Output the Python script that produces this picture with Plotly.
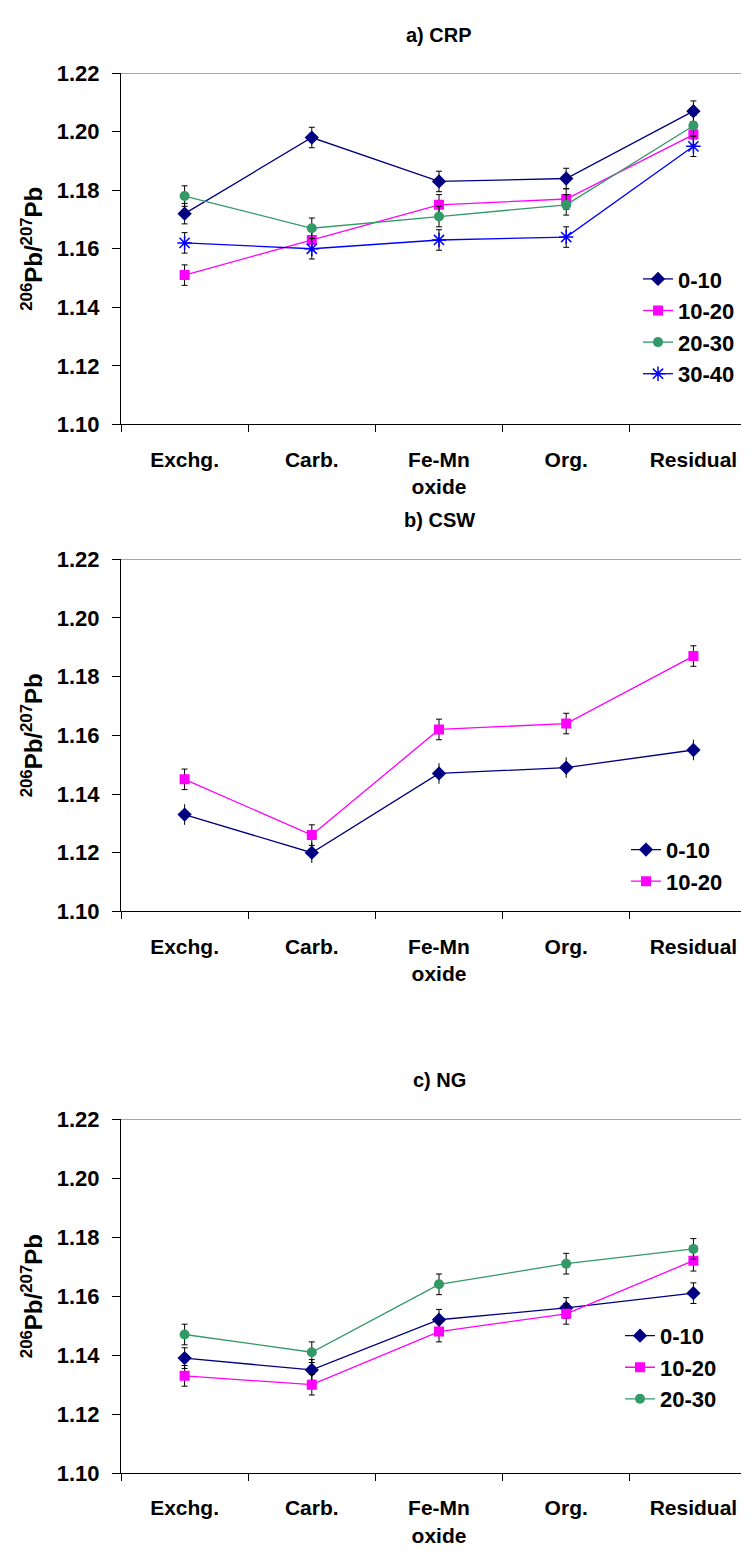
import plotly.graph_objects as go

categories = ["Exchg.", "Carb.", "Fe-Mn<br>oxide", "Org.", "Residual"]
y_ticks = [1.10, 1.12, 1.14, 1.16, 1.18, 1.20, 1.22]
y_ticktext = ["1.10", "1.12", "1.14", "1.16", "1.18", "1.20", "1.22"]

# a) CRP
crp_0_10 = [1.172, 1.198, 1.183, 1.184, 1.207]
crp_10_20 = [1.151, 1.163, 1.175, 1.177, 1.199]
crp_20_30 = [1.178, 1.167, 1.171, 1.175, 1.202]
crp_30_40 = [1.162, 1.160, 1.163, 1.164, 1.195]
# b) CSW
csw_0_10 = [1.133, 1.120, 1.147, 1.149, 1.155]
csw_10_20 = [1.145, 1.126, 1.162, 1.164, 1.187]
# c) NG
ng_0_10 = [1.139, 1.135, 1.152, 1.156, 1.161]
ng_10_20 = [1.133, 1.130, 1.148, 1.154, 1.172]
ng_20_30 = [1.147, 1.141, 1.164, 1.171, 1.176]

err = [0.0035, 0.0035, 0.0035, 0.0035, 0.0035]

W, H = 749, 1554
L = 113
FONT = "Liberation Sans, Arial, sans-serif"

styles = {
    "0-10": dict(color="#000080", symbol="diamond", size=11),
    "10-20": dict(color="#FF00FF", symbol="square", size=10),
    "20-30": dict(color="#339966", symbol="circle", size=10),
    "30-40": dict(color="#0000FF", symbol="asterisk-open", size=12),
}

panels = [
    dict(title="a) CRP", top=54, bottom=411, title_y=15,
         series=[("0-10", crp_0_10), ("10-20", crp_10_20), ("20-30", crp_20_30), ("30-40", crp_30_40)],
         legend=dict(x=630, y=242), nocap=[]),
    dict(title="b) CSW", top=548, bottom=906, title_y=508,
         series=[("0-10", csw_0_10), ("10-20", csw_10_20)],
         legend=dict(x=618, y=822), nocap=["0-10"]),
    dict(title="c) NG", top=1117, bottom=1477, title_y=1077,
         series=[("0-10", ng_0_10), ("10-20", ng_10_20), ("20-30", ng_20_30)],
         legend=dict(x=612, y=1316), nocap=[]),
]

fig = go.Figure()
annotations = []
shapes = []
layout_extra = {}

for i, p in enumerate(panels):
    n = i + 1
    xa = "x" if n == 1 else f"x{n}"
    ya = "y" if n == 1 else f"y{n}"
    lg = "legend" if n == 1 else f"legend{n}"
    for name, vals in p["series"]:
        st = styles[name]
        fig.add_trace(go.Scatter(
            x=categories, y=vals, name=name, mode="lines+markers",
            xaxis=xa, yaxis=ya, legend=lg,
            line=dict(color=st["color"], width=1.3),
            marker=dict(symbol=st["symbol"], size=st["size"], color=st["color"],
                        line=dict(color=st["color"], width=1.5 if st["symbol"] == "asterisk-open" else 0)),
            error_y=dict(type="data", array=err, visible=True, color="black",
                         thickness=1, width=0 if name in p["nocap"] else 3),
        ))
    dom = [1 - p["bottom"] / H, 1 - p["top"] / H]
    xkey = "xaxis" if n == 1 else f"xaxis{n}"
    ykey = "yaxis" if n == 1 else f"yaxis{n}"
    layout_extra[xkey] = dict(
        domain=[0, 1], anchor=ya, type="category", tickson="boundaries",
        ticks="outside", ticklen=7, tickcolor="black", showline=True, linecolor="black",
        linewidth=1, showgrid=False, zeroline=False, ticklabelstandoff=16,
        tickfont=dict(family=FONT, size=21, color="black", weight="bold"),
        range=[-0.5, 4.5], fixedrange=True,
    )
    layout_extra[ykey] = dict(
        domain=dom, anchor=xa, range=[1.10, 1.22], tickvals=y_ticks, ticktext=y_ticktext,
        ticks="outside", ticklen=8, tickcolor="black", showline=True, linecolor="black",
        linewidth=1, showgrid=False, zeroline=False, ticklabelstandoff=8,
        tickfont=dict(family=FONT, size=22, color="black", weight="bold"),
    )
    layout_extra[lg] = dict(
        x=(p["legend"]["x"] - L) / (W - L), y=1 - p["legend"]["y"] / H,
        xanchor="left", yanchor="top", bgcolor="rgba(0,0,0,0)",
        font=dict(family=FONT, size=22, color="black", weight="bold"),
        itemwidth=30, tracegroupgap=0,
    )
    shapes.append(dict(type="line", xref=f"{xa} domain", yref=ya, x0=0, x1=1, y0=1.22, y1=1.22,
                       line=dict(color="#888888", width=1.5)))
    annotations.append(dict(text=p["title"], xref="paper", yref="paper", x=0.5,
                            y=1 - p["title_y"] / H, xanchor="center", yanchor="middle",
                            showarrow=False, font=dict(family=FONT, size=20, color="black", weight="bold")))
    annotations.append(dict(text="<sup>206</sup>Pb/<sup>207</sup>Pb", xref="paper", yref="paper",
                            x=(24 - L) / (W - L), y=(dom[0] + dom[1]) / 2, textangle=-90,
                            xanchor="center", yanchor="middle", showarrow=False,
                            font=dict(family=FONT, size=24, color="black", weight="bold")))

fig.update_layout(
    width=W, height=H, margin=dict(l=L, r=0, t=0, b=0),
    paper_bgcolor="white", plot_bgcolor="white",
    annotations=annotations, shapes=shapes, showlegend=True,
    **layout_extra,
)

fig.write_html("out.html")
